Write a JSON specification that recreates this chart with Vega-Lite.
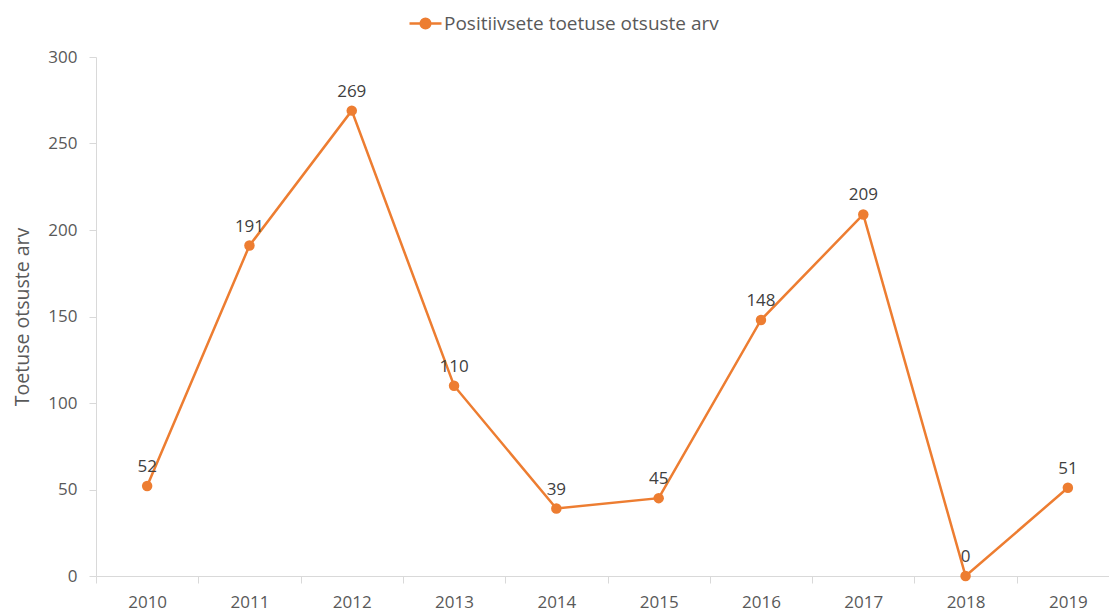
{
  "$schema": "https://vega.github.io/schema/vega-lite/v6.json",
  "autosize": "none",
  "width": 1013,
  "height": 519,
  "padding": {"left": 96, "top": 57, "right": 0, "bottom": 36},
  "background": "white",
  "config": {"view": {"stroke": null}, "font": "Open Sans"},
  "data": {"values": [
    {"year": 2010, "value": 52},
    {"year": 2011, "value": 191},
    {"year": 2012, "value": 269},
    {"year": 2013, "value": 110},
    {"year": 2014, "value": 39},
    {"year": 2015, "value": 45},
    {"year": 2016, "value": 148},
    {"year": 2017, "value": 209},
    {"year": 2018, "value": 0},
    {"year": 2019, "value": 51}
  ]},
  "resolve": {"axis": {"x": "independent"}},
  "layer": [
    {
      "mark": {"type": "line", "strokeWidth": 2.5, "point": {"filled": true, "size": 110}},
      "encoding": {
        "x": {"field": "year", "type": "quantitative",
          "scale": {"domain": [2009.5, 2019.402], "nice": false, "zero": false},
          "axis": {"orient": "bottom", "values": [2009.5, 2010.5, 2011.5, 2012.5, 2013.5, 2014.5, 2015.5, 2016.5, 2017.5, 2018.5],
            "labels": false, "title": null, "grid": false, "tickSize": 7, "tickColor": "#d9d9d9",
            "domainColor": "#d9d9d9", "domainWidth": 1}},
        "y": {"field": "value", "type": "quantitative",
          "scale": {"domain": [0, 300], "nice": false},
          "axis": {"values": [0, 50, 100, 150, 200, 250, 300], "grid": false,
            "title": "Toetuse otsuste arv", "titleFont": "Open Sans", "titleFontSize": 19.5, "titleFontWeight": "normal",
            "titleColor": "#595959", "titlePadding": 15,
            "labelFont": "Open Sans", "labelFontSize": 17, "labelColor": "#595959", "labelPadding": 12,
            "tickSize": 7, "tickColor": "#d9d9d9", "domainColor": "#d9d9d9"}},
        "color": {"datum": "Positiivsete toetuse otsuste arv", "type": "nominal",
          "scale": {"range": ["#ED7D31"]},
          "legend": {"title": null, "orient": "none", "legendX": 312, "legendY": -51,
            "symbolType": "M-1,0L1,0M0.3,0A0.3,0.3,0,1,1,-0.3,0A0.3,0.3,0,1,1,0.3,0Z",
            "symbolSize": 1024, "symbolStrokeWidth": 2.5, "symbolFillColor": "#ED7D31", "symbolStrokeColor": "#ED7D31",
            "labelFont": "Open Sans", "labelFontSize": 19, "labelColor": "#595959", "labelOffset": 1, "labelLimit": 600}}
      }
    },
    {
      "mark": {"type": "text", "baseline": "bottom", "dy": -10, "fontSize": 17, "font": "Open Sans", "fill": "#404040"},
      "encoding": {
        "x": {"field": "year", "type": "quantitative",
          "axis": {"orient": "bottom", "values": [2010, 2011, 2012, 2013, 2014, 2015, 2016, 2017, 2018, 2019], "format": "d",
            "ticks": false, "domain": false, "grid": false, "title": null,
            "labelFont": "Open Sans", "labelFontSize": 17, "labelColor": "#595959", "labelPadding": 18}},
        "y": {"field": "value", "type": "quantitative"},
        "text": {"field": "value", "type": "quantitative"}
      }
    }
  ]
}
